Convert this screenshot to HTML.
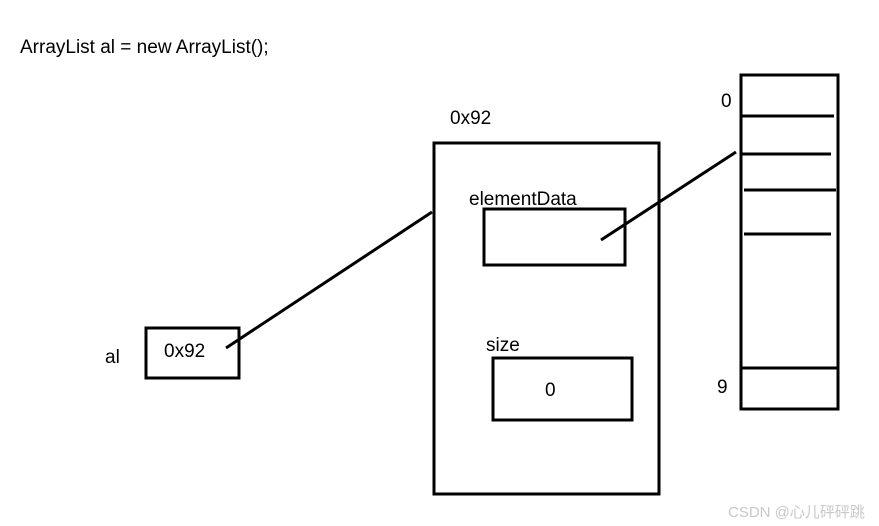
<!DOCTYPE html>
<html><head><style>body{margin:0;background:#fff}svg{display:block}</style></head><body>
<svg width="879" height="526" xmlns="http://www.w3.org/2000/svg" font-family="'Liberation Sans','Noto Sans CJK SC',sans-serif" font-size="19">
<rect width="879" height="526" fill="#fff"/>
<text x="20" y="53">ArrayList al = new ArrayList();</text>
<g fill="none" stroke="#000" stroke-width="3">
<rect x="434" y="143" width="225" height="351"/>
<rect x="484" y="209" width="141" height="56"/>
<rect x="493" y="358" width="139" height="62"/>
<rect x="146" y="328" width="93" height="50"/>
<rect x="741" y="75" width="97" height="334"/>
<line x1="741" y1="116" x2="834" y2="116"/>
<line x1="741" y1="154" x2="831" y2="154"/>
<line x1="744" y1="190" x2="836" y2="190"/>
<line x1="744" y1="234" x2="831" y2="234"/>
<line x1="741" y1="368" x2="838" y2="368"/>
<line x1="226" y1="348" x2="432" y2="212"/>
<line x1="601" y1="240" x2="736" y2="152"/>
</g>
<text x="450" y="124">0x92</text>
<text x="469" y="205">elementData</text>
<text x="486" y="351">size</text>
<text x="545" y="396">0</text>
<text x="164" y="357">0x92</text>
<text x="105" y="363">al</text>
<text x="721" y="107">0</text>
<text x="717" y="393">9</text>
<text x="728" y="517" font-size="15" fill="#c8c8c8">CSDN @心儿砰砰跳</text>
</svg>
</body></html>
